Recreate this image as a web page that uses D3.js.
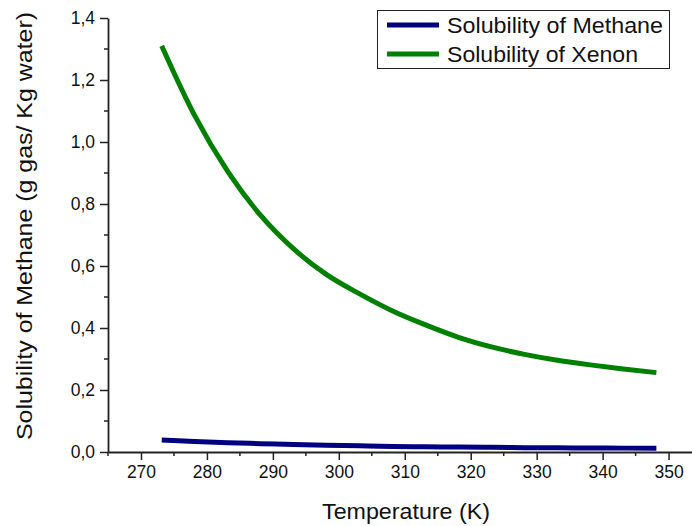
<!DOCTYPE html>
<html>
<head>
<meta charset="utf-8">
<script src="https://cdn.jsdelivr.net/npm/d3@7"></script>
<style>
  html, body { margin: 0; padding: 0; background: #fff; }
  svg text { font-family: "Liberation Sans", Arial, sans-serif; fill: #111; }
</style>
</head>
<body>
<svg id="chart" width="692" height="526"></svg>
<script>
// Temperature (K) and solubility (g gas / kg water)
const temperature = [273.15, 278.15, 283.15, 288.15, 293.15, 298.15, 303.15, 308.15,
                     313.15, 318.15, 323.15, 328.15, 333.15, 338.15, 343.15, 348.15];
const methane = [0.039, 0.034, 0.030, 0.027, 0.024, 0.022, 0.020, 0.018,
                 0.017, 0.016, 0.015, 0.014, 0.0135, 0.013, 0.0125, 0.012];
const xenon = [1.31, 1.085, 0.905, 0.763, 0.655, 0.572, 0.510, 0.455,
               0.410, 0.370, 0.339, 0.315, 0.296, 0.281, 0.268, 0.256];
const seriesNames = ["Solubility of Methane", "Solubility of Xenon"];
const seriesColors = ["#000080", "#008000"];
const xTicks = [270, 280, 290, 300, 310, 320, 330, 340, 350];
const yTicks = [0, 0.2, 0.4, 0.6, 0.8, 1.0, 1.2, 1.4];
const xTitle = "Temperature (K)";
const yTitle = "Solubility of Methane (g gas/ Kg water)";

const svg = d3.select("#chart");
const plot = { left: 108, right: 692, top: 18, bottom: 452 };

const x = d3.scaleLinear().domain([265, 353.55]).range([plot.left, plot.right]);
const y = d3.scaleLinear().domain([0, 1.4]).range([plot.bottom, plot.top]);

const fmt = d => d3.format(".1f")(d).replace(".", ",");

// minor ticks
const xMinor = d3.range(265, 355, 10);
const yMinor = d3.range(0.1, 1.4, 0.2);

const axisG = svg.append("g");

// x axis
const xAxis = axisG.append("g").attr("transform", `translate(0,${plot.bottom})`)
  .call(d3.axisBottom(x).tickValues(xTicks).tickFormat(d3.format("d")).tickSize(8).tickPadding(6).tickSizeOuter(0));
xAxis.append("g").selectAll("line").data(xMinor).join("line")
  .attr("x1", d => x(d)).attr("x2", d => x(d)).attr("y1", 0).attr("y2", 4)
  .attr("stroke", "#222").attr("stroke-width", 1.5);

// y axis
const yAxis = axisG.append("g").attr("transform", `translate(${plot.left},0)`)
  .call(d3.axisLeft(y).tickValues(yTicks).tickFormat(fmt).tickSize(8).tickPadding(5).tickSizeOuter(0));
yAxis.append("g").selectAll("line").data(yMinor).join("line")
  .attr("x1", 0).attr("x2", -4).attr("y1", d => y(d)).attr("y2", d => y(d))
  .attr("stroke", "#222").attr("stroke-width", 1.5);

axisG.selectAll(".domain").attr("stroke", "#222").attr("stroke-width", 1.8);
axisG.selectAll(".tick line").attr("stroke", "#222").attr("stroke-width", 1.5);
axisG.selectAll(".tick text").attr("font-size", 17.5).attr("font-family", "Liberation Sans, Arial, sans-serif").attr("fill", "#111");

// axis titles
svg.append("text").attr("x", 406).attr("y", 519).attr("text-anchor", "middle")
  .attr("font-size", 22).attr("textLength", 168).attr("lengthAdjust", "spacingAndGlyphs").text(xTitle);
svg.append("text").attr("transform", `translate(32,226) rotate(-90)`).attr("text-anchor", "middle")
  .attr("font-size", 21.5).attr("textLength", 428).attr("lengthAdjust", "spacingAndGlyphs").text(yTitle);

// curves
const line = d3.line().x((d, i) => x(temperature[i])).y(d => y(d)).curve(d3.curveMonotoneX);
[methane, xenon].forEach((s, k) => {
  svg.append("path").datum(s).attr("d", line)
    .attr("fill", "none").attr("stroke", seriesColors[k]).attr("stroke-width", 5);
});

// legend
const legendLengths = [216, 191];
const lg = svg.append("g");
lg.append("rect").attr("x", 377.5).attr("y", 10.5).attr("width", 292).attr("height", 58)
  .attr("fill", "#fff").attr("stroke", "#222").attr("stroke-width", 1);
seriesNames.forEach((name, k) => {
  const cy = 25 + k * 29;
  lg.append("line").attr("x1", 387).attr("x2", 439).attr("y1", cy).attr("y2", cy)
    .attr("stroke", seriesColors[k]).attr("stroke-width", 5);
  lg.append("text").attr("x", 447).attr("y", cy + 8).attr("font-size", 22)
    .attr("textLength", legendLengths[k]).attr("lengthAdjust", "spacingAndGlyphs").text(name);
});
</script>
</body>
</html>
